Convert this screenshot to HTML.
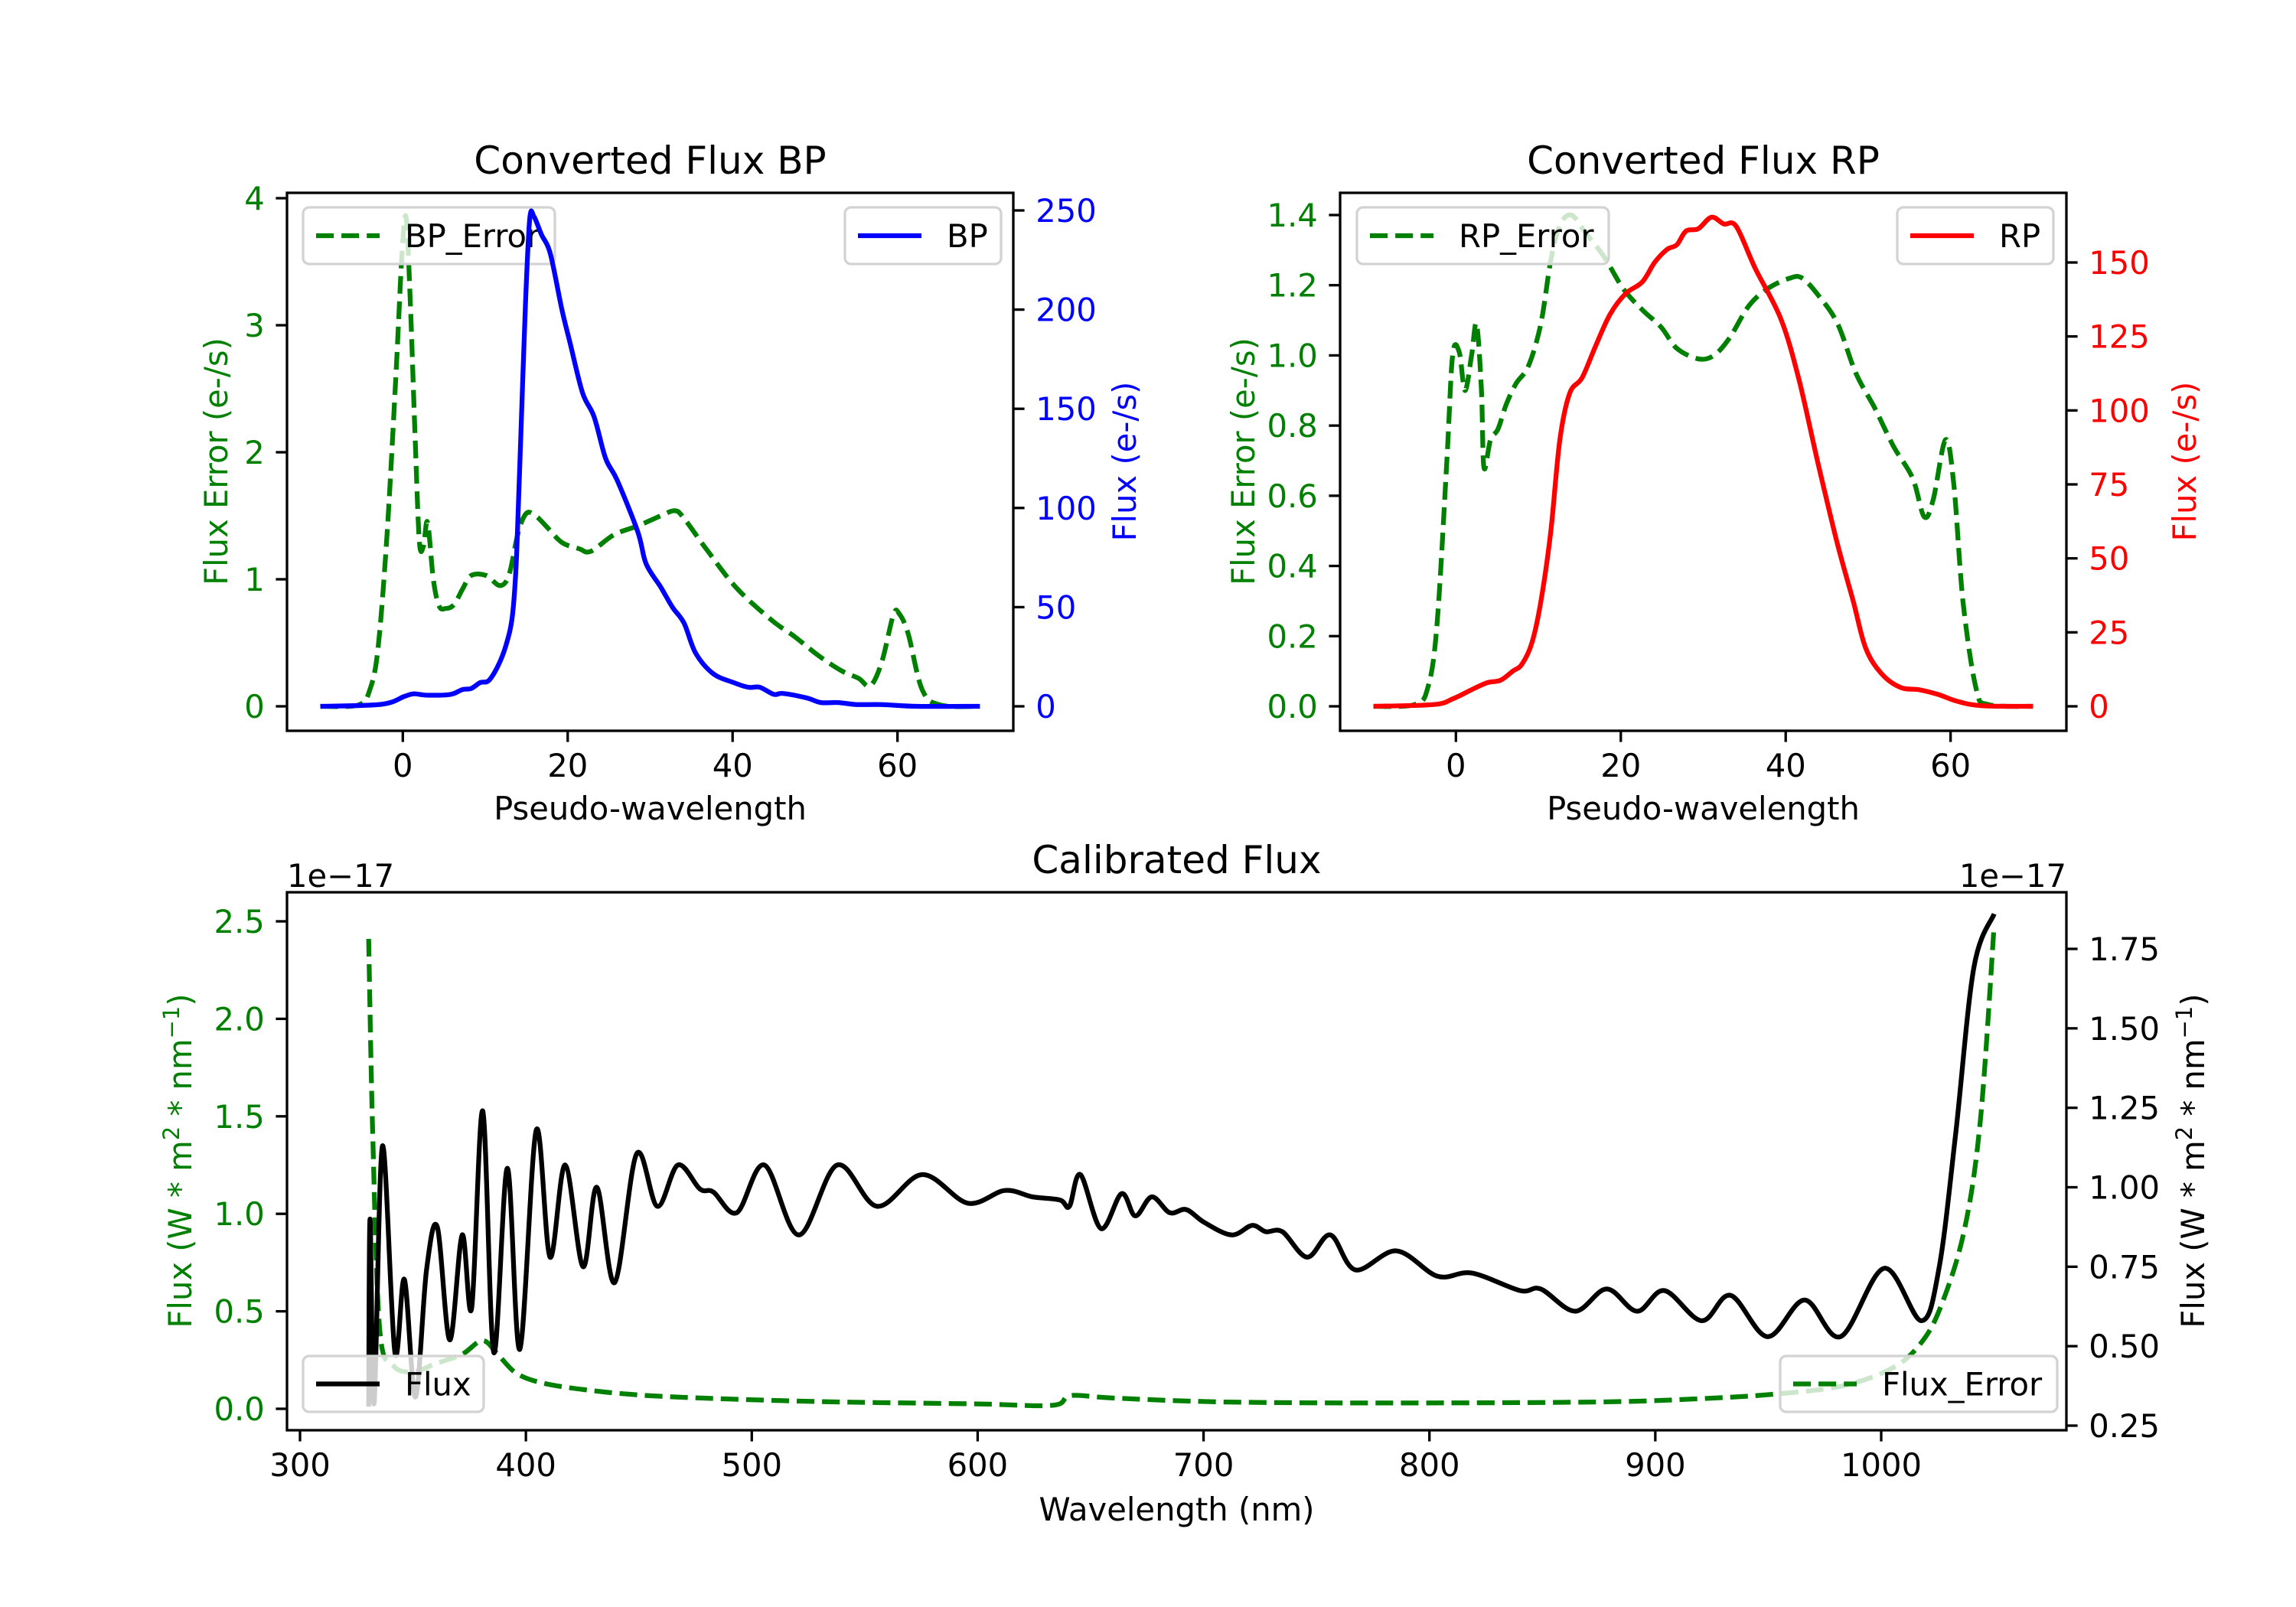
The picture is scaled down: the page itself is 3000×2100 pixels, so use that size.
<!DOCTYPE html>
<html><head><meta charset="utf-8"><style>
html,body{margin:0;padding:0;background:#fff;}
svg{display:block;font-family:"DejaVu Sans","Liberation Sans",sans-serif;}
</style></head><body>
<svg id="fig" width="3000" height="2100" viewBox="0 0 3000 2100" xmlns="http://www.w3.org/2000/svg">
<rect width="3000" height="2100" fill="#fff"/>
</svg>
<script>
// ---- BP panel data ----
const bpX=[-10,-2.6,0.2,1.3,3,5.8,7.2,8.3,9.4,10.4,11.5,12.5,13.3,13.8,14.3,14.9,15.4,15.9,16.8,17.9,19.3,20.3,21.8,23.2,24.6,26,28.5,29.5,31.3,32.7,34.1,35.5,37.6,40.1,41.9,43.3,45,46.1,49,50.7,52.8,55,58.1,62.4,70];
const bpY=[0,1,5,6.3,5.6,6,8.4,9,12,12.9,20,30.6,46,76,135,205,246,247,238,228,200,183,158,146,125,114,88,72,60,50,42,27,16.6,12,9.6,9.6,6,6.5,4.2,1.9,1.9,0.9,0.9,0,0];
const bpErrX=[-10,-5.4,-4,-3,-1.9,-0.8,-0.1,0.4,0.9,1.5,2,2.5,3,3.7,4.4,5.2,6.2,7.3,8.3,10.1,11.8,12.9,14,15,16.1,17.5,19.3,21.4,22.8,25.6,28.5,31.3,33,34.1,36.9,40.5,44.7,47.5,50.4,53.2,55.3,56.7,58.1,59.5,60.2,61.3,63,65.2,70];
const bpErrY=[0,0.01,0.13,0.46,1.37,2.65,3.56,3.85,3.2,2.1,1.3,1.26,1.45,1.0,0.79,0.77,0.8,0.93,1.03,1.03,0.95,1.04,1.37,1.52,1.5,1.41,1.29,1.24,1.22,1.35,1.42,1.5,1.54,1.48,1.23,0.93,0.68,0.55,0.4,0.28,0.22,0.16,0.35,0.72,0.73,0.57,0.13,0.01,0];
// ---- RP panel data ----
const rpX=[-10,-2.7,-0.4,1.9,3.8,5.4,6.9,8,9.2,10.3,11.5,12.6,13.8,15.3,16.9,18.7,20.6,22.6,24.1,25.6,26.8,27.9,29.4,31,32.5,34,36.3,39.4,41.6,43.9,46.2,48.2,49.7,51.6,53.9,56.2,58.5,60.8,63.8,70];
const rpY=[0,0.6,2.5,5.6,8,8.8,11.9,14.2,21.3,35.4,58.9,90,105.8,111,121.5,132.5,139.5,143.4,150,154.4,156,160.6,161.4,165.3,163,162.2,148,131,110.5,82.4,55.7,35.4,19.7,11.1,6.4,5.6,4,1.7,0.2,0];
const rpErrX=[-10,-5,-3.4,-2.3,-1.1,-0.4,0.4,1.1,1.9,2.5,3.1,3.4,4.2,5.1,6.1,7.3,8.8,10.3,11.5,12.6,14,15.7,18,20.3,22.6,24.9,26.8,29.4,31.3,33.2,35.5,37.8,40.5,42,44,46.3,48.5,50.8,53.1,55.4,56.8,57.9,59.4,60.4,61.5,63.1,64.6,70];
const rpErrY=[0,0.005,0.054,0.23,0.7,1.0,1.01,0.9,1.0,1.09,0.9,0.68,0.76,0.79,0.86,0.92,0.97,1.09,1.27,1.37,1.4,1.35,1.28,1.19,1.13,1.08,1.02,0.99,1.0,1.05,1.14,1.19,1.22,1.22,1.17,1.09,0.95,0.85,0.74,0.65,0.54,0.59,0.76,0.63,0.3,0.05,0.005,0];
// ---- Calibrated flux data (1e-17) ----
const flX=[330.4,331,332.8,336.5,342,346.2,351.1,356,360.8,366.3,371.8,376,380.9,385.8,391.8,397.3,404.6,410.7,417.4,425.3,431.4,439.3,449,458.2,467.3,477,483,493.4,505.6,520.8,537.8,555.5,575.5,595.6,612,624.2,636.4,640.6,645.5,654.6,663.7,669.8,677.1,685,692.3,700.2,712.4,721.5,727.6,734.9,745.9,756.2,767.2,785.4,803.6,818.8,840.1,849.3,864.5,878.5,891.9,904,920.5,933.3,949.7,966.1,982,1001.3,1017.8,1025.7,1033,1041,1050];
const flY=[0.31,0.90,0.32,1.13,0.48,0.71,0.34,0.74,0.875,0.52,0.85,0.62,1.24,0.48,1.06,0.49,1.18,0.78,1.07,0.75,1.0,0.70,1.105,0.94,1.07,0.995,0.985,0.92,1.07,0.85,1.07,0.94,1.04,0.95,0.99,0.97,0.96,0.94,1.04,0.87,0.98,0.91,0.97,0.92,0.93,0.89,0.85,0.88,0.86,0.86,0.78,0.85,0.74,0.80,0.72,0.73,0.675,0.68,0.61,0.68,0.61,0.675,0.58,0.66,0.53,0.645,0.53,0.745,0.58,0.75,1.17,1.69,1.86];
const feX=[330.4,332.2,335.3,341.4,350.5,359.6,371.8,380.9,388.2,396.1,408.3,429.6,453.9,490.4,539,599.9,633.3,641.2,660.6,709.3,782.3,873.5,916.1,952.6,983,1004.3,1016.4,1025.7,1036.6,1043.9,1050];
const feY=[2.41,1.41,0.405,0.22,0.19,0.23,0.28,0.35,0.27,0.18,0.13,0.093,0.068,0.05,0.035,0.025,0.018,0.068,0.055,0.035,0.03,0.035,0.05,0.075,0.118,0.205,0.32,0.505,0.906,1.48,2.48];
// ---- tick labels ----
const pwTicks=[0,20,40,60];
const bpErrTicks=[0,1,2,3,4];
const bpTicks=[0,50,100,150,200,250];
const rpErrTicks=[0,0.2,0.4,0.6,0.8,1.0,1.2,1.4];
const rpTicks=[0,25,50,75,100,125,150];
const wlTicks=[300,400,500,600,700,800,900,1000];
const feTicks=[0,0.5,1.0,1.5,2.0,2.5];
const flTicks=[0.25,0.5,0.75,1.0,1.25,1.5,1.75];

const svg=document.getElementById('fig');
const NS='http://www.w3.org/2000/svg';
const GREEN='#008000',BLUE='#0000ff',RED='#ff0000';
const FS=41.7,TL=14.6;
function mk(tag,attrs,parent){const e=document.createElementNS(NS,tag);for(const k in attrs)e.setAttribute(k,attrs[k]);(parent||svg).appendChild(e);return e;}
function lin(d0,d1,r0,r1){return v=>r0+(v-d0)*(r1-r0)/(d1-d0);}
function smooth(xs,ys,sx,sy){
  const p=xs.map((x,i)=>[sx(x),sy(ys[i])]);
  let d='M'+p[0][0].toFixed(1)+','+p[0][1].toFixed(1);
  for(let i=0;i<p.length-1;i++){
    const p0=p[Math.max(0,i-1)],p1=p[i],p2=p[i+1],p3=p[Math.min(p.length-1,i+2)];
    const c1=[p1[0]+(p2[0]-p0[0])/6,p1[1]+(p2[1]-p0[1])/6];
    const c2=[p2[0]-(p3[0]-p1[0])/6,p2[1]-(p3[1]-p1[1])/6];
    d+='C'+c1[0].toFixed(1)+','+c1[1].toFixed(1)+' '+c2[0].toFixed(1)+','+c2[1].toFixed(1)+' '+p2[0].toFixed(1)+','+p2[1].toFixed(1);
  }
  return d;
}
function fmt(v,dec){return dec==null?String(v):v.toFixed(dec);}
function xTicks(ticks,sx,yb,dec){
  ticks.forEach(t=>{const x=sx(t);
    const l=mk('line',{x1:x,x2:x,y1:yb,y2:yb+TL,stroke:'#000','stroke-width':3.3});
    
    
    const tx=mk('text',{x:x,y:yb+TL+14.6+31,'font-size':FS,'text-anchor':'middle',fill:'#000'});
    tx.textContent=fmt(t,dec);
    
    
  });
}
function yTicks(ticks,sy,xe,side,color,dec){
  ticks.forEach(t=>{const y=sy(t);const dir=side==='left'?-1:1;
    const l=mk('line',{x1:xe,x2:xe+dir*TL,y1:y,y2:y,stroke:'#000','stroke-width':3.3});
    
    
    const tx=mk('text',{x:xe+dir*(TL+14.6),y:y+15,'font-size':FS,'text-anchor':side==='left'?'end':'start',fill:color});
    tx.textContent=fmt(t,dec);
    
    
  });
}
function line(xs,ys,sx,sy,color,dashed,name){
  const a={d:smooth(xs,ys,sx,sy),fill:'none',stroke:color,'stroke-width':6.25,'stroke-linejoin':'round'};
  if(dashed)a['stroke-dasharray']='23.1 10';
  const e=mk('path',a);
  
  
}
function legend(x0,y0,x1,y1,color,dashed,label,name){
  const g=mk('g',{});
  
  
  mk('rect',{x:x0,y:y0,width:x1-x0,height:y1-y0,rx:8,ry:8,fill:'rgba(255,255,255,0.8)',stroke:'#d3d3d3','stroke-width':3.3},g);
  const cy=(y0+y1)/2;
  const a={x1:x0+17,x2:x0+100,y1:cy,y2:cy,stroke:color,'stroke-width':6.25};
  if(dashed)a['stroke-dasharray']='23.1 10';
  mk('line',a,g);
  const t=mk('text',{x:x0+133,y:cy+15,'font-size':FS,fill:'#000'},g);
  t.textContent=label;
}
function frame(x0,y0,x1,y1,name){
  const r=mk('rect',{x:x0,y:y0,width:x1-x0,height:y1-y0,fill:'none',stroke:'#000','stroke-width':3.3});
  
  
}
function text(x,y,s,opts,name){
  const a=Object.assign({x:x,y:y,'font-size':FS,fill:'#000','text-anchor':'middle'},opts||{});
  const t=mk('text',a);t.textContent=s;
  
  
  return t;
}
function vlabel(x,y,s,color,name){
  return text(x,y,s,{fill:color,transform:'rotate(-90 '+x+' '+y+')'},name);
}

// ===== Panel BP =====
(function(){
  const X0=375,X1=1324,Y0=252,Y1=955;
  const sx=lin(-10,70,418.6,1280.4);
  const syL=lin(0,1,923,757);
  const syR=lin(0,250,923,275);
  line(bpErrX,bpErrY,sx,syL,GREEN,true,'bp-error-line');
  legend(396,271,725,345,GREEN,true,'BP_Error','bp-error-legend');
  line(bpX,bpY,sx,syR,BLUE,false,'bp-line');
  legend(1104,271,1308,345,BLUE,false,'BP','bp-legend');
  frame(X0,Y0,X1,Y1,'bp-axes-frame');
  xTicks(pwTicks,sx,Y1);
  yTicks(bpErrTicks,syL,X0,'left',GREEN);
  yTicks(bpTicks,syR,X1,'right',BLUE);
  text((X0+X1)/2,227,'Converted Flux BP',{'font-size':50},'bp-title');
  text((X0+X1)/2,1071,'Pseudo-wavelength',{},'bp-x-axis-title');
  vlabel(297,603,'Flux Error (e-/s)',GREEN,'bp-left-y-axis-title');
  vlabel(1484,603,'Flux (e-/s)',BLUE,'bp-right-y-axis-title');
})();

// ===== Panel RP =====
(function(){
  const X0=1751,X1=2700,Y0=252,Y1=955;
  const sx=lin(-10,70,1794.6,2656.4);
  const syL=lin(0,1.4,923,281);
  const syR=lin(0,150,923,343);
  line(rpErrX,rpErrY,sx,syL,GREEN,true,'rp-error-line');
  legend(1773,271,2102,345,GREEN,true,'RP_Error','rp-error-legend');
  line(rpX,rpY,sx,syR,RED,false,'rp-line');
  legend(2479,271,2683,345,RED,false,'RP','rp-legend');
  frame(X0,Y0,X1,Y1,'rp-axes-frame');
  xTicks(pwTicks,sx,Y1);
  yTicks(rpErrTicks,syL,X0,'left',GREEN,1);
  yTicks(rpTicks,syR,X1,'right',RED);
  text((X0+X1)/2,227,'Converted Flux RP',{'font-size':50},'rp-title');
  text((X0+X1)/2,1071,'Pseudo-wavelength',{},'rp-x-axis-title');
  vlabel(1639,603,'Flux Error (e-/s)',GREEN,'rp-left-y-axis-title');
  vlabel(2869,603,'Flux (e-/s)',RED,'rp-right-y-axis-title');
})();

// ===== Calibrated flux =====
(function(){
  const X0=375,X1=2700,Y0=1166,Y1=1869;
  const sx=lin(300,1000,392,2458);
  const syL=lin(0,2.5,1841,1204);
  const syR=lin(0.25,1.75,1863,1240);
  line(feX,feY,sx,syL,GREEN,true,'flux-error-line');
  line(flX,flY,sx,syR,'#000',false,'flux-line');
  legend(396,1772,632,1845,'#000',false,'Flux','flux-legend');
  legend(2326,1772,2688,1845,GREEN,true,'Flux_Error','flux-error-legend');
  frame(X0,Y0,X1,Y1,'calibrated-axes-frame');
  xTicks(wlTicks,sx,Y1);
  yTicks(feTicks,syL,X0,'left',GREEN,1);
  yTicks(flTicks,syR,X1,'right','#000',2);
  text((X0+X1)/2,1141,'Calibrated Flux',{'font-size':50},'calibrated-title');
  text(375,1159,'1e\u221217',{'text-anchor':'start'},'left-offset-text');
  text(2700,1159,'1e\u221217',{'text-anchor':'end'},'right-offset-text');
  text((X0+X1)/2,1987,'Wavelength (nm)',{},'calibrated-x-axis-title');
  [[250,GREEN,'calibrated-left-y-axis-title'],[2880,'#000','calibrated-right-y-axis-title']].forEach(([x,c,n])=>{
    const y=1517;
    const t=mk('text',{x:x,y:y,'font-size':FS,fill:c,'text-anchor':'middle',transform:'rotate(-90 '+x+' '+y+')'});
    
    
    const parts=[['Flux (W * m',0],['2',1],[' * nm',0],['\u22121',1],[')',0]];
    let up=false;
    parts.forEach(([s,sup])=>{
      let dy=0;
      if(sup&&!up){dy=-16;up=true;} else if(!sup&&up){dy=16;up=false;}
      const ts=mk('tspan',{'font-size':sup?29:FS,dy:dy},t);
      ts.textContent=s;
    });
  });
})();
</script>
</body></html>
